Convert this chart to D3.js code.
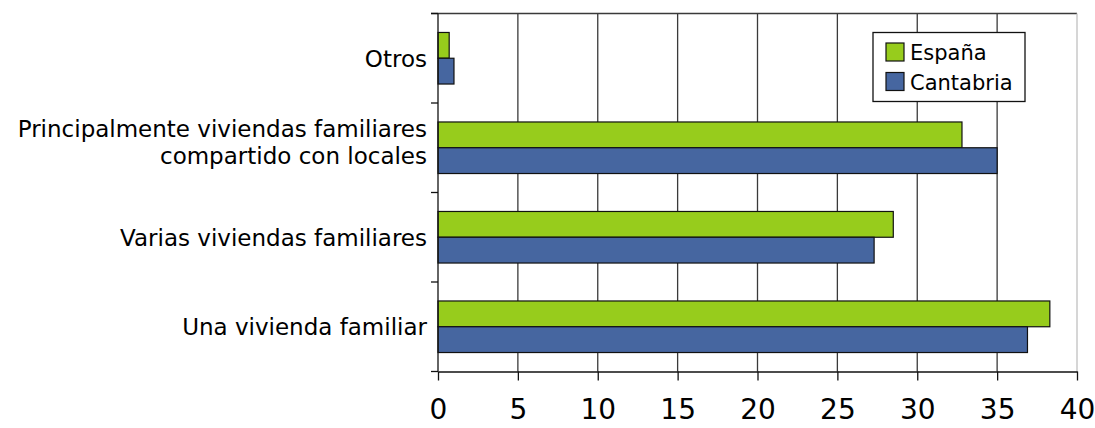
<!DOCTYPE html>
<html><head><meta charset="utf-8">
<script src="https://cdn.jsdelivr.net/npm/d3@7"></script>
<style>body{margin:0;background:#fff}svg{display:block}text{font-family:"DejaVu Sans",sans-serif}</style>
</head><body><svg id="c" width="1095" height="428"></svg>
<script>
const categories = [["Otros"], ["Principalmente viviendas familiares","compartido con locales"], ["Varias viviendas familiares"], ["Una vivienda familiar"]];
const seriesNames = ["España", "Cantabria"];
const espana = [0.7, 32.8, 28.5, 38.3];
const cantabria = [1.0, 35.0, 27.3, 36.9];
const xTicks = [0,5,10,15,20,25,30,35,40];
const colors = ["#97cc1c", "#4666a0"];

const svg = d3.select("#c");
const pLeft = 438, pRight = 1077, pTop = 13.5, pBottom = 371.5;
const x = d3.scaleLinear().domain([0,40]).range([pLeft,pRight]);
const y = d3.scaleBand().domain(d3.range(categories.length)).range([pTop,pBottom]).paddingInner(0.424).paddingOuter(0.212);
const yOuter = d3.scaleBand().domain(d3.range(categories.length)).range([pTop,pBottom]);
const ySub = d3.scaleBand().domain([0,1]).range([0,y.bandwidth()]);

// gridlines
svg.append("g").selectAll("line").data(xTicks.filter(d=>d>0 && d<40)).join("line")
  .attr("x1",d=>x(d)).attr("x2",d=>x(d)).attr("y1",pTop).attr("y2",pBottom)
  .attr("stroke","#3a3a3a").attr("stroke-width",1.3);
// top border
svg.append("line").attr("x1",pLeft-7).attr("x2",pRight).attr("y1",pTop).attr("y2",pTop).attr("stroke","#3a3a3a").attr("stroke-width",1.3);
// right border
svg.append("line").attr("x1",pRight).attr("x2",pRight).attr("y1",pTop).attr("y2",pBottom).attr("stroke","#c0c0c0").attr("stroke-width",1.3);

// bars
const data = [espana, cantabria];
data.forEach((vals,s)=>{
  svg.append("g").selectAll("rect").data(vals).join("rect")
    .attr("x",x(0)).attr("y",(d,i)=>y(i)+ySub(s))
    .attr("width",d=>x(d)-x(0)).attr("height",ySub.bandwidth())
    .attr("fill",colors[s]).attr("stroke","#111").attr("stroke-width",1.2);
});

// x axis
const xa = svg.append("g").attr("transform",`translate(0,${pBottom})`)
  .call(d3.axisBottom(x).tickValues(xTicks).tickSize(9).tickPadding(19).tickSizeOuter(0));
xa.select(".domain").attr("stroke","#111").attr("stroke-width",1.3);
xa.selectAll(".tick line").attr("stroke","#111").attr("stroke-width",1.3);
xa.selectAll("text").attr("font-size",28).attr("font-family","DejaVu Sans").attr("fill","#000");

// y axis line and ticks at band boundaries
svg.append("line").attr("x1",pLeft).attr("x2",pLeft).attr("y1",pTop).attr("y2",pBottom).attr("stroke","#111").attr("stroke-width",1.3);
const bounds = d3.range(categories.length+1).map(i=>pTop + i*yOuter.step());
svg.append("g").selectAll("line").data(bounds).join("line")
  .attr("x1",pLeft-7).attr("x2",pLeft).attr("y1",d=>d).attr("y2",d=>d).attr("stroke","#111").attr("stroke-width",1.3);

// category labels
const lab = svg.append("g");
const fs = 23;
categories.forEach((lines,i)=>{
  const cy = yOuter(i)+yOuter.bandwidth()/2;
  const lh = 27;
  const shift = lines.length > 1 ? -6 : 0;
  const t = lab.append("text").attr("text-anchor","end").attr("font-size",fs).attr("fill","#000");
  lines.forEach((l,j)=>{
    t.append("tspan").attr("x",pLeft-11).attr("y",cy + shift + (j-(lines.length-1)/2)*lh).attr("dy","0.36em").text(l);
  });
});

// legend
const lg = svg.append("g");
lg.append("rect").attr("x",873).attr("y",32.5).attr("width",152).attr("height",69).attr("fill","#fff").attr("stroke","#111").attr("stroke-width",1.3);
seriesNames.forEach((n,i)=>{
  lg.append("rect").attr("x",886).attr("y",43+i*29.5).attr("width",18).attr("height",18).attr("fill",colors[i]).attr("stroke","#111").attr("stroke-width",1.2);
  lg.append("text").attr("x",910).attr("y",52.5+i*29.5).attr("dy","0.36em").attr("font-size",21).attr("fill","#000").text(n);
});
</script></body></html>
